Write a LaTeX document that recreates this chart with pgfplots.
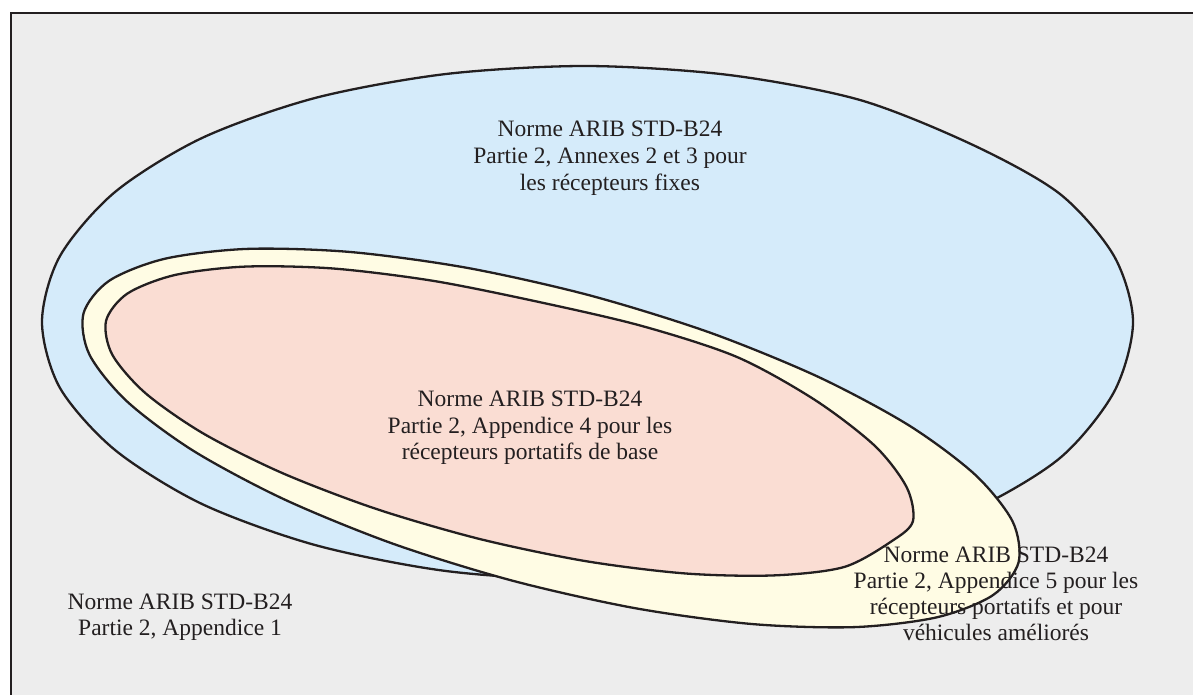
\documentclass[border=0pt]{standalone}
\usepackage{pgfplots}
\pgfplotsset{compat=1.18}
\usepackage{fontspec}
\setmainfont{Liberation Serif}
\definecolor{bgray}{RGB}{237,237,237}
\definecolor{cblue}{RGB}{213,235,250}
\definecolor{cyellow}{RGB}{255,252,228}
\definecolor{cpink}{RGB}{250,221,211}
\definecolor{ink}{RGB}{35,31,32}
\begin{document}
\begin{tikzpicture}
\begin{axis}[
  scale only axis, width=596.5pt, height=347.5pt,
  xmin=0, xmax=1193, ymin=0, ymax=695, y dir=reverse,
  hide axis, clip=true,
]
% background and frame
\fill[white] (axis cs:0,0) rectangle (axis cs:1193,695);
\draw[ink, line width=1pt, fill=bgray] (axis cs:11,13.5) rectangle (axis cs:1215,720);
% blue region
\addplot[draw=ink, line width=1.15pt, fill=cblue, smooth cycle, mark=none] coordinates {
(1133,322) (1114,256) (1060,194) (973,145) (860,100) (729,75) (587,66) (446,74) (315,98) (202,138) (115,192) (60,256)
(42,322) (60,388) (115,450) (202,504) (315,545) (446,571) (587,580) (729,573) (860,550) (973,510) (1060,458) (1114,392)
};
% yellow region
\addplot[draw=ink, line width=1.15pt, fill=cyellow, smooth cycle, mark=none] coordinates {
(1018.5,562.6) (1012.5,521.3) (974.9,474.5) (908.5,425.1) (817.7,376.6) (708.8,332.2) (589.1,295.2) (466.8,267.8) (350.3,252) (247.3,248.9) (165.1,258.7) (109.3,280.7)
(83.5,313.4) (89.5,354.7) (127.1,401.5) (193.5,450.9) (284.3,499.4) (393.2,543.8) (512.9,580.8) (635.2,608.2) (751.7,624) (854.7,627.1) (936.9,617.3) (992.7,595.3)
};
% pink region
\addplot[draw=ink, line width=1.15pt, fill=cpink, smooth cycle, mark=none] coordinates {
(912.9,521.3) (906.7,487.3) (875,446) (815,400) (737,357) (642,326) (539,302) (433.5,280.9) (333.2,268.5) (245.1,266.6) (174.9,275) (127.5,293.5)
(106.1,320.7) (112.3,354.7) (145.5,393.2) (203.5,433.6) (282.4,473.1) (376.7,509.1) (480.1,539.1) (585.5,561.1) (685.8,573.5) (773.9,575.4) (844.1,567) (892,541)
};
% labels
\begin{scope}[every node/.style={anchor=base, text=ink, inner sep=0pt, font=\fontsize{11.75}{13.25}\selectfont}]
\node at (axis cs:610,137) {Norme ARIB STD-B24};
\node at (axis cs:610,164) {Partie 2, Annexes 2 et 3 pour};
\node at (axis cs:610,191) {les récepteurs fixes};
\node at (axis cs:530,406) {Norme ARIB STD-B24};
\node at (axis cs:530,433) {Partie 2, Appendice 4 pour les};
\node at (axis cs:530,459) {récepteurs portatifs de base};
\node at (axis cs:180,609) {Norme ARIB STD-B24};
\node at (axis cs:180,635) {Partie 2, Appendice 1};
\node at (axis cs:996,562) {Norme ARIB STD-B24};
\node at (axis cs:996,588) {Partie 2, Appendice 5 pour les};
\node at (axis cs:996,614) {récepteurs portatifs et pour};
\node at (axis cs:996,640) {véhicules améliorés};
\end{scope}
\end{axis}
\end{tikzpicture}
\end{document}
